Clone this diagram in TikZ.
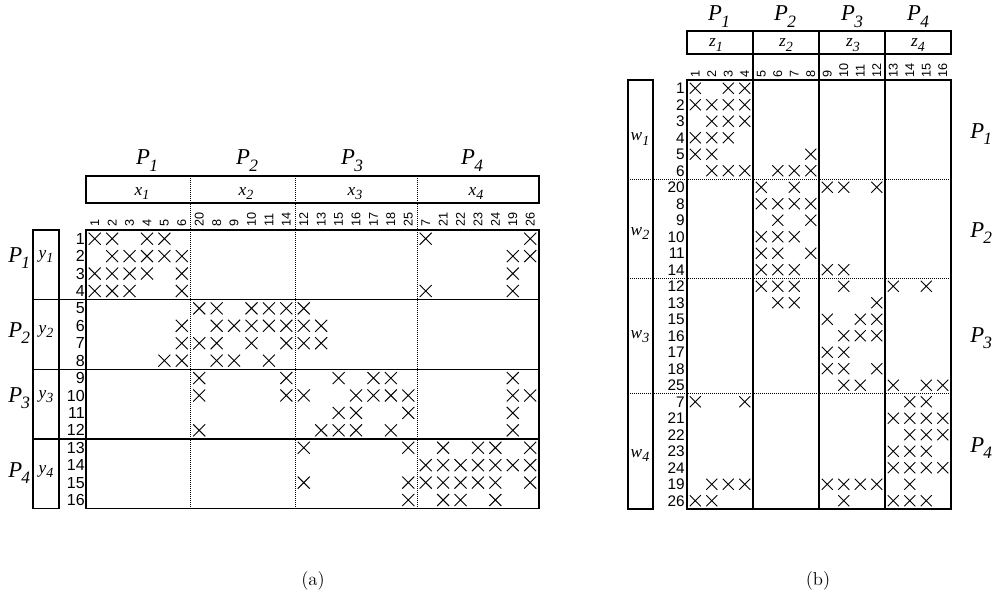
\documentclass[tikz,border=0pt]{standalone}
\usepackage{fontspec}
\newfontfamily\tnr{Liberation Serif}
\newfontfamily\arl{Liberation Sans}
\newcommand\Psub[1]{P\kern-0.5pt\raisebox{-5pt}{\fontsize{13}{13}\selectfont #1}}
\newcommand\vsub[2]{#1\raisebox{-3.5pt}{\fontsize{10.5}{10.5}\selectfont #2}}
\begin{document}
\begin{tikzpicture}[x=0.75pt,y=-0.75pt]
\tikzset{
 frame/.style={line width=0.9pt},
 dotl/.style={line width=0.6pt, dash pattern=on 0.75pt off 0.75pt},
 xm/.style={line width=0.7pt},
 rnum/.style={font=\arl\fontsize{12}{12}\selectfont, anchor=east, inner sep=0pt},
 rnumb/.style={font=\arl\fontsize{11.5}{11.5}\selectfont, anchor=east, inner sep=0pt},
 cnum/.style={font=\arl\fontsize{9.5}{9.5}\selectfont, rotate=90, anchor=west, inner sep=0pt},
 plab/.style={font=\tnr\fontsize{17}{17}\selectfont\itshape, inner sep=0pt, anchor=base},
 plabw/.style={plab, anchor=base west},
 vlab/.style={font=\tnr\fontsize{13}{13}\selectfont\itshape, inner sep=0pt, anchor=base},
 captxt/.style={font=\fontsize{14}{14}\selectfont, inner sep=0pt},
}
\useasboundingbox (0,0) rectangle (998,599);

% ---------------- (a) ----------------
\draw[frame] (86,176) rectangle (539,203);
\draw[frame] (86,230) rectangle (539,508.7);
\draw[frame] (33,230) rectangle (59,508.7);
\foreach \yy in {299.7,369.4,439} \draw[frame] (33,\yy) -- (539,\yy);
\foreach \xx in {190.5,295,417} \draw[dotl] (\xx,176) -- (\xx,508.7);

\foreach \cx/\s [count=\k] in {147/1,247/2,352/3,472/4}
  \node[plab] (pa\k) at (\cx,165) {\Psub{\s}};
\foreach \cx/\s [count=\k] in {142/1,246/2,355/3,476/4}
  \node[vlab] (xa\k) at (\cx,195) {\vsub{x}{\s}};
\foreach \b/\s [count=\k] in {262/1,337/2,402/3,477/4}
  \node[plabw] (pla\k) at (8,\b) {\Psub{\s}};
\foreach \b/\s [count=\k] in {258/1,333/2,398/3,473/4}
  \node[vlab] (ya\k) at (46,\b) {\vsub{y}{\s}};

\foreach \r in {1,...,16} {
  \pgfmathsetmacro\yr{230+(\r-0.5)*17.42}
  \node[rnum] (ra\r) at (85,\yr) {\r};
}
\foreach \lab [count=\i from 0] in {1,2,3,4,5,6,20,8,9,10,11,14,12,13,15,16,17,18,25,7,21,22,23,24,19,26} {
  \pgfmathsetmacro\xc{86+(\i+0.5)*17.42}
  \node[cnum] (ca\i) at (\xc,227) {\lab};
  \pgfmathsetmacro\yrb{80+(\i+0.5)*16.5}
  \node[rnumb] (rb\i) at (685,\yrb) {\lab};
}

% ---------------- (b) ----------------
\draw[frame] (687,31) rectangle (951,54);
\draw[frame] (687,80) rectangle (951,509);
\draw[frame] (628,80) rectangle (653,509);
\foreach \xx in {753,819,885} \draw[frame] (\xx,31) -- (\xx,509);
\foreach \yy in {179,278,393.5} \draw[dotl] (628,\yy) -- (951,\yy);

\foreach \cx/\s [count=\k] in {719/1,785/2,852/3,918/4}
  \node[plab] (pb\k) at (\cx,21) {\Psub{\s}};
\foreach \cx/\s [count=\k] in {716/1,786/2,853/3,918/4}
  \node[vlab] (zb\k) at (\cx,47) {\vsub{z}{\s}};
\foreach \b/\s [count=\k] in {141/1,235/2,338/3,457/4}
  \node[vlab] (wb\k) at (640,\b) {\vsub{w}{\s}};
\foreach \b/\s [count=\k] in {138/1,237/2,342/3,452/4}
  \node[plabw] (prb\k) at (970,\b) {\Psub{\s}};
\foreach \j in {1,...,16} {
  \pgfmathsetmacro\xcb{687+(\j-0.5)*16.5}
  \node[cnum] (cb\j) at (\xcb,78) {\j};
}

% ---------------- crosses ----------------
\foreach \r/\cl in {
 1/{0,1,3,4,19,25},
 2/{1,2,3,4,5,24,25},
 3/{0,1,2,3,5,24},
 4/{0,1,2,5,19,24},
 5/{6,7,9,10,11,12},
 6/{5,7,8,9,10,11,12,13},
 7/{5,6,7,9,11,12,13},
 8/{4,5,7,8,10},
 9/{6,11,14,16,17,24},
 10/{6,11,12,15,16,17,18,24,25},
 11/{14,15,18,24},
 12/{6,13,14,15,17,24},
 13/{12,18,20,22,23,25},
 14/{19,20,21,22,23,24,25},
 15/{12,18,19,20,21,22,23,25},
 16/{18,20,21,23}} {
  \foreach \c in \cl {
    \pgfmathsetmacro\xa{86+(\c+0.5)*17.42}
    \pgfmathsetmacro\ya{230+(\r-0.5)*17.42}
    \draw[xm] (\xa-6,\ya-6) -- (\xa+6,\ya+6) (\xa-6,\ya+6) -- (\xa+6,\ya-6);
    \pgfmathsetmacro\xb{687+(\r-0.5)*16.5}
    \pgfmathsetmacro\yb{80+(\c+0.5)*16.5}
    \draw[xm] (\xb-5.5,\yb-5.5) -- (\xb+5.5,\yb+5.5) (\xb-5.5,\yb+5.5) -- (\xb+5.5,\yb-5.5);
  }
}

% captions
\node[captxt] (capa) at (313,581) {(a)};
\node[captxt] (capb) at (818,581) {(b)};
\end{tikzpicture}
\end{document}
